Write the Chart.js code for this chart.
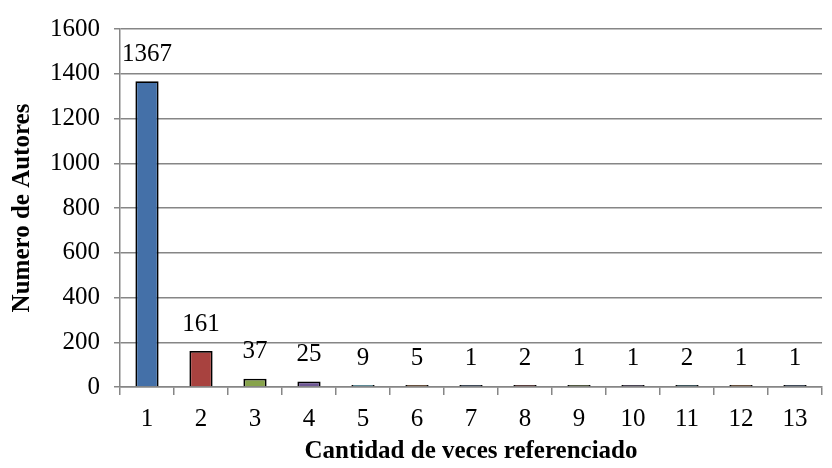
<!DOCTYPE html>
<html>
<head>
<meta charset="utf-8">
<script src="https://cdn.jsdelivr.net/npm/chart.js@4"></script>
<style>
  html, body { margin: 0; padding: 0; background: #fff; }
  #wrap { width: 832px; height: 468px; }
</style>
</head>
<body>
<div id="wrap"><canvas id="c"></canvas></div>
<script>
const categories = ['1','2','3','4','5','6','7','8','9','10','11','12','13'];
const autores = [1367, 161, 37, 25, 9, 5, 1, 2, 1, 1, 2, 1, 1];
const yTicks = [0, 200, 400, 600, 800, 1000, 1200, 1400, 1600];
const barColors = ['#4470A8','#A8423F','#87A34B','#6E5795','#3F95AE','#E0853E'];

const font = 'Liberation Serif, Times New Roman, serif';

// value labels above each bar
const labelPlugin = {
  id: 'labels',
  afterDatasetsDraw(chart) {
    const ctx = chart.ctx;
    const meta = chart.getDatasetMeta(0);
    ctx.save();
    ctx.font = `25px ${font}`;
    ctx.fillStyle = '#000';
    ctx.textAlign = 'center';
    ctx.textBaseline = 'middle';
    meta.data.forEach((bar, i) => {
      ctx.fillText(String(autores[i]), bar.x, bar.y - 27);
    });
    ctx.restore();
  }
};

new Chart(document.getElementById('c'), {
  type: 'bar',
  data: {
    labels: categories,
    datasets: [{
      data: autores,
      backgroundColor: categories.map((c, i) => barColors[i % barColors.length]),
      borderColor: '#000',
      borderWidth: 1.8,
      minBarLength: 2,
      categoryPercentage: 1,
      barPercentage: 0.43
    }]
  },
  options: {
    responsive: true, maintainAspectRatio: false, animation: false,
    layout: { padding: { top: 24, right: 10, left: 0, bottom: 0 } },
    plugins: { legend: { display: false }, tooltip: { enabled: false } },
    scales: {
      x: {
        offset: true,
        grid: { offset: true, drawOnChartArea: false, drawTicks: true, tickLength: 8, color: '#868686', lineWidth: 1.5 },
        border: { color: '#868686', width: 1.5 },
        ticks: { color: '#000', font: { family: font, size: 25 }, padding: 9, maxRotation: 0 },
        title: { display: true, text: 'Cantidad de veces referenciado', color: '#000', font: { family: font, size: 25, weight: 'bold' }, padding: { top: 4, bottom: 1 } },
        afterFit(s) { s.height = 81; }
      },
      y: {
        min: 0, max: 1600,
        afterBuildTicks(s) { s.ticks = yTicks.map(v => ({ value: v })); },
        grid: { color: '#868686', lineWidth: 1.5, tickLength: 6 },
        border: { color: '#868686', width: 1.5 },
        ticks: { color: '#000', font: { family: font, size: 25 }, padding: 14, callback: v => String(v) },
        title: { display: true, text: 'Numero de Autores', color: '#000', font: { family: font, size: 25, weight: 'bold' }, padding: { top: 8, bottom: 6 } },
        afterFit(s) { s.width = 120; }
      }
    }
  },
  plugins: [labelPlugin]
});
</script>
</body>
</html>
